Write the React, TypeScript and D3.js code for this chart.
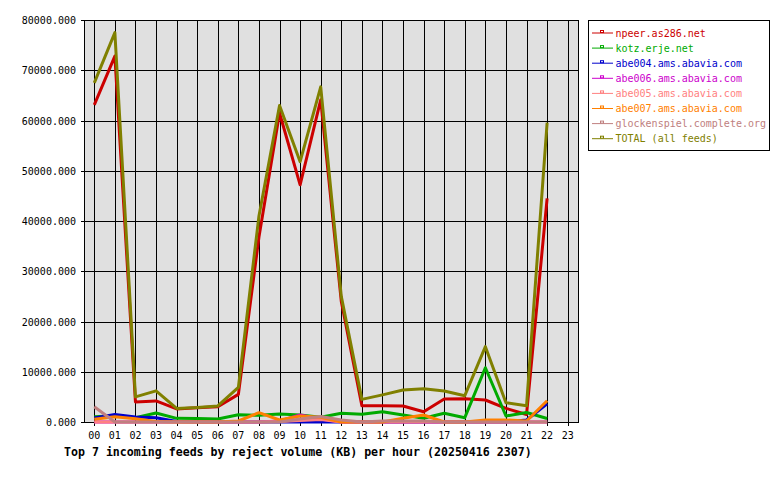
import * as d3 from 'd3';
import React, { useEffect, useRef } from 'react';

// hour labels on the x axis
const hours = ["00", "01", "02", "03", "04", "05", "06", "07", "08", "09", "10", "11",
  "12", "13", "14", "15", "16", "17", "18", "19", "20", "21", "22", "23"];

const yTicks = [0, 10000, 20000, 30000, 40000, 50000, 60000, 70000, 80000];

// series values per hour (00..22), KB
const npeer = [63100, 72800, 4000, 4200, 2600, 2850, 3050, 5500, 36800, 61500, 47200, 64100,
  24000, 3250, 3250, 3180, 2050, 4580, 4640, 4380, 2720, 1500, 44500];
const kotz = [1050, 1250, 850, 1800, 730, 700, 600, 1450, 1330, 1600, 1400, 930,
  1730, 1530, 2050, 1400, 730, 1730, 860, 10800, 1190, 1900, 700];
const abe004 = [800, 1500, 1000, 850, 100, 0, 0, 0, 0, 0, 0, 0,
  0, 0, 0, 0, 0, 0, 0, 0, 0, 400, 3600];
const abe006 = [0, 0, 0, 0, 0, 0, 0, 0, 0, 200, 1400, 600,
  0, 0, 0, 0, 0, 0, 0, 0, 0, 0, 0];
const abe005 = [0, 0, 0, 0, 0, 0, 0, 0, 0, 100, 300, 500,
  0, 0, 0, 0, 0, 0, 0, 0, 0, 0, 0];
const abe007 = [530, 1050, 660, 100, 0, 0, 0, 200, 1850, 400, 1200, 930,
  0, 0, 0, 730, 1400, 0, 0, 400, 400, 200, 4240];
const glocken = [3050, 0, 0, 0, 0, 0, 0, 0, 0, 0, 600, 1100,
  400, 0, 200, 200, 200, 0, 0, 0, 0, 0, 0];
const total = [67500, 77500, 5000, 6200, 2700, 2900, 3200, 6900, 41000, 63000, 51800, 66700,
  25000, 4500, 5400, 6370, 6630, 6170, 5240, 14990, 3840, 3250, 59560];

const seriesNames = ["npeer.as286.net", "kotz.erje.net", "abe004.ams.abavia.com", "abe006.ams.abavia.com",
  "abe005.ams.abavia.com", "abe007.ams.abavia.com", "glockenspiel.complete.org", "TOTAL (all feeds)"];
const seriesValues = [npeer, kotz, abe004, abe006, abe005, abe007, glocken, total];
const seriesColors = ["#cc0000", "#00aa00", "#0000cc", "#cc00cc", "#ff8080", "#ff8000", "#c08080", "#808000"];

const App: React.FC = () => {
  const ref = useRef<SVGSVGElement>(null);

  useEffect(() => {
    if (!ref.current) return;
    const svg = d3.select(ref.current);
    svg.selectAll("*").remove();

    const mono = "'DejaVu Sans Mono', monospace";
    const left = 84, right = 578, top = 20, bottom = 422;

    const x = d3.scaleLinear().domain([-0.5, 23.5]).range([left, right]);
    const y = d3.scaleLinear().domain([0, 80000]).range([bottom, top]);

    svg.append("rect").attr("width", 780).attr("height", 480).attr("fill", "#fff");

    // plot background
    svg.append("rect")
      .attr("x", left).attr("y", top)
      .attr("width", right - left).attr("height", bottom - top)
      .attr("fill", "#e0e0e0");

    // grid
    const grid = svg.append("g").attr("stroke", "#000").attr("stroke-width", 1).attr("shape-rendering", "crispEdges");
    hours.forEach((_, i) => {
      grid.append("line")
        .attr("x1", Math.round(x(i)) + 0.5).attr("x2", Math.round(x(i)) + 0.5)
        .attr("y1", top).attr("y2", bottom + 4);
    });
    yTicks.forEach(t => {
      grid.append("line")
        .attr("x1", left - 3).attr("x2", right)
        .attr("y1", Math.round(y(t)) + 0.5).attr("y2", Math.round(y(t)) + 0.5);
    });
    grid.append("rect")
      .attr("x", left + 0.5).attr("y", top + 0.5)
      .attr("width", right - left).attr("height", bottom - top)
      .attr("fill", "none");

    // y labels
    svg.append("g").selectAll("text").data(yTicks).enter().append("text")
      .attr("x", 76).attr("y", d => y(d) + 4)
      .attr("text-anchor", "end")
      .style("font", `10px ${mono}`)
      .text(d => d3.format(".3f")(d));

    // x labels
    svg.append("g").selectAll("text").data(hours).enter().append("text")
      .attr("x", (_, i) => x(i)).attr("y", 439)
      .attr("text-anchor", "middle")
      .style("font", `10px ${mono}`)
      .text(d => d);

    svg.append("text")
      .attr("x", 64).attr("y", 456)
      .style("font", `bold 11.6px ${mono}`)
      .text("Top 7 incoming feeds by reject volume (KB) per hour (20250416 2307)");

    // lines
    const line = d3.line<number>().x((_, i) => x(i)).y(d => y(d));
    seriesValues.forEach((vals, k) => {
      svg.append("path")
        .datum(vals)
        .attr("d", line)
        .attr("fill", "none")
        .attr("stroke", seriesColors[k])
        .attr("stroke-width", 3)
        .attr("stroke-linejoin", "round");
    });

    // legend
    const lg = svg.append("g");
    lg.append("rect")
      .attr("x", 588.5).attr("y", 20.5).attr("width", 181).attr("height", 130)
      .attr("fill", "#fff").attr("stroke", "#000");
    seriesNames.forEach((name, k) => {
      const cy = 33 + k * 15.1;
      lg.append("line").attr("x1", 592).attr("x2", 613).attr("y1", cy).attr("y2", cy)
        .attr("stroke", seriesColors[k]).attr("stroke-width", 1);
      lg.append("rect").attr("x", 600.5).attr("y", cy - 2.5).attr("width", 3).attr("height", 2)
        .attr("fill", "#fff").attr("stroke", seriesColors[k]);
      lg.append("text").attr("x", 615.5).attr("y", cy + 3.5)
        .attr("fill", seriesColors[k])
        .style("font", `10px ${mono}`)
        .text(name);
    });
  }, []);

  return <svg ref={ref} width={780} height={480} style={{ position: "absolute", left: 0, top: 0 }}></svg>;
};

export default App;
